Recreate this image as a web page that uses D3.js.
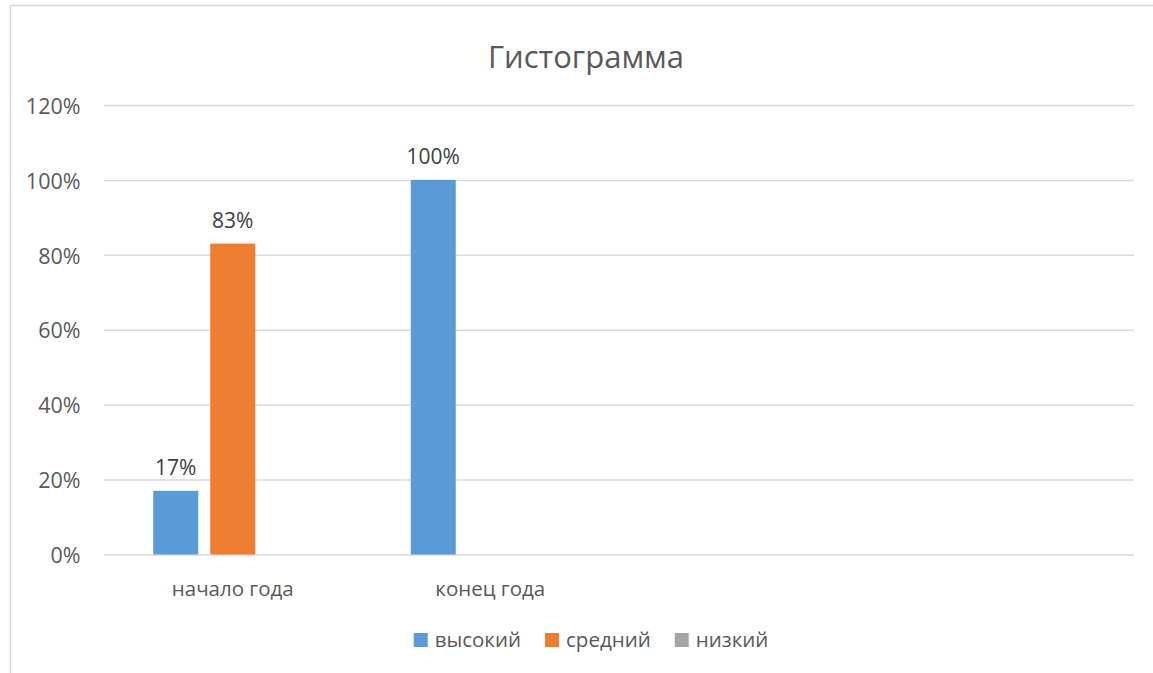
<!DOCTYPE html>
<html><head><meta charset="utf-8">
<script src="https://cdn.jsdelivr.net/npm/d3@7/dist/d3.min.js"></script>
<style>
html,body{margin:0;padding:0;background:#fff;}
svg{display:block;font-family:"Open Sans",sans-serif;}
</style></head>
<body>
<svg id="chart" width="1153" height="673"></svg>
<script>
const title = "Гистограмма";
const categories = ["начало года", "конец года", "", ""];
const seriesNames = ["высокий", "средний", "низкий"];
const seriesColors = ["#5B9BD5", "#ED7D31", "#A5A5A5"];
const valuesHigh = [0.17, 1.00, null, null];
const valuesMid = [0.83, null, null, null];
const valuesLow = [null, null, null, null];
const yTicks = [0, 0.2, 0.4, 0.6, 0.8, 1.0, 1.2];

const series = [valuesHigh, valuesMid, valuesLow];
const svg = d3.select("#chart");
const W = 1153, H = 673;
const plot = {left: 104, right: 1134, top: 105, bottom: 554.5};

// chart border
svg.append("rect").attr("x", 10.5).attr("y", 5.5).attr("width", W + 20).attr("height", H + 20)
  .attr("fill", "#fff").attr("stroke", "#d9d9d9").attr("stroke-width", 1.5);

const y = d3.scaleLinear().domain([0, 1.2]).range([plot.bottom, plot.top]);
const x0 = d3.scaleBand().domain(d3.range(categories.length)).range([plot.left, plot.right]).padding(0);
const groupFrac = 0.6175;
const gOff = x0.bandwidth() * (1 - groupFrac) / 2;
const x1 = d3.scaleBand().domain(d3.range(seriesNames.length))
  .range([gOff, x0.bandwidth() - gOff]).paddingInner(0.2105).paddingOuter(0);

// y axis + gridlines
const yAxis = d3.axisLeft(y).tickValues(yTicks).tickFormat(d3.format(".0%"))
  .tickSize(-(plot.right - plot.left)).tickPadding(23.5);
const gy = svg.append("g").attr("transform", `translate(${plot.left},0)`).call(yAxis);
gy.select(".domain").remove();
gy.selectAll(".tick line").attr("stroke", "#d9d9d9").attr("stroke-width", 1.5);
gy.selectAll(".tick text").attr("fill", "#595959").style("font-size", "21.5px")
  .style("font-family", "'Open Sans', sans-serif").attr("dy", "0.38em");

// x axis
const xAxis = d3.axisBottom(x0).tickFormat(i => categories[i]).tickSize(0).tickPadding(0);
const gx = svg.append("g").attr("transform", `translate(0,${plot.bottom})`).call(xAxis);
gx.select(".domain").remove();
gx.selectAll(".tick text").attr("fill", "#595959").style("font-size", "20.5px")
  .style("font-family", "'Open Sans', sans-serif").attr("y", 41.5).attr("dy", 0);

// bars
const barData = [];
series.forEach((vals, s) => vals.forEach((v, c) => { if (v != null) barData.push({s, c, v}); }));
svg.append("g").selectAll("rect").data(barData).join("rect")
  .attr("x", d => x0(d.c) + x1(d.s))
  .attr("width", x1.bandwidth())
  .attr("y", d => y(d.v))
  .attr("height", d => y(0) - y(d.v))
  .attr("fill", d => seriesColors[d.s]);

// data labels
svg.append("g").selectAll("text").data(barData).join("text")
  .attr("x", d => x0(d.c) + x1(d.s) + x1.bandwidth() / 2)
  .attr("y", d => y(d.v) - 15.5)
  .attr("text-anchor", "middle")
  .attr("fill", "#404040").style("font-size", "21px")
  .text(d => d3.format(".0%")(d.v));

// title
svg.append("text").attr("x", 586).attr("y", 68).attr("text-anchor", "middle")
  .attr("fill", "#595959").style("font-size", "31px").text(title);

// legend
const lg = svg.append("g");
const items = lg.selectAll("g").data(seriesNames).join("g");
items.append("rect").attr("width", 14).attr("height", 14).attr("y", 633)
  .attr("fill", (d, i) => seriesColors[i]);
items.append("text").attr("x", 21).attr("y", 640).attr("dy", "0.35em")
  .attr("fill", "#595959").style("font-size", "20.5px").text(d => d);
let xs = 0; const pos = [];
items.each(function () {
  pos.push(xs);
  xs += 21 + this.querySelector("text").getComputedTextLength() + 24;
});
const total = xs - 24;
const startX = 591 - total / 2;
items.attr("transform", (d, i) => `translate(${startX + pos[i]},0)`);
</script>
</body></html>
